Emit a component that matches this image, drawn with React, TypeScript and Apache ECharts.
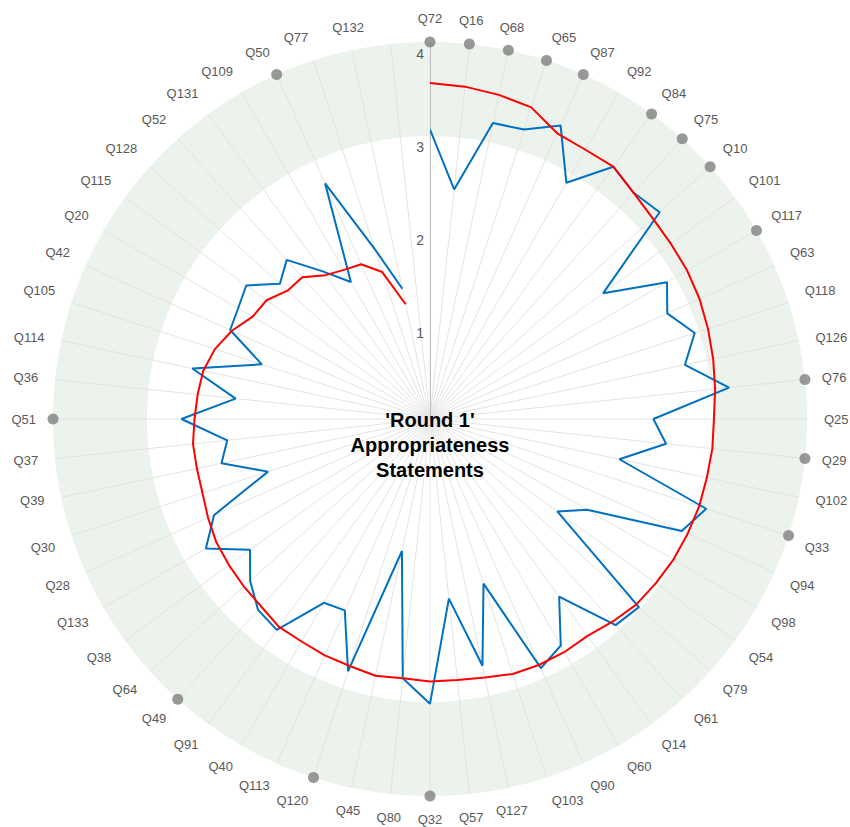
import React, { useEffect, useRef } from 'react';
import * as echarts from 'echarts';

const categories = [
  'Q72', 'Q16', 'Q68', 'Q65', 'Q87', 'Q92', 'Q84', 'Q75', 'Q10', 'Q101',
  'Q117', 'Q63', 'Q118', 'Q126', 'Q76', 'Q25', 'Q29', 'Q102', 'Q33', 'Q94',
  'Q98', 'Q54', 'Q79', 'Q61', 'Q14', 'Q60', 'Q90', 'Q103', 'Q127', 'Q57',
  'Q32', 'Q80', 'Q45', 'Q120', 'Q113', 'Q40', 'Q91', 'Q49', 'Q64', 'Q38',
  'Q133', 'Q28', 'Q30', 'Q39', 'Q37', 'Q51', 'Q36', 'Q114', 'Q105', 'Q42',
  'Q20', 'Q115', 'Q128', 'Q52', 'Q131', 'Q109', 'Q50', 'Q77', 'Q132', '',
];

const blueValues = [
  3.11, 2.48, 3.25, 3.27, 3.45, 2.93, 3.35, 3.27, 3.32, 2.30,
  2.94, 2.79, 2.99, 2.80, 3.23, 2.40, 2.55, 2.08, 3.12, 2.96,
  1.95, 1.69, 3.02, 2.98, 2.36, 2.81, 2.93, 1.86, 2.71, 1.94,
  3.06, 2.80, 1.45, 2.85, 2.25, 2.28, 2.80, 2.76, 2.60, 2.39,
  2.78, 2.54, 1.83, 2.29, 2.19, 2.67, 2.10, 2.61, 1.90, 2.35,
  2.38, 2.44, 2.17, 2.30, 1.96, 1.70, 2.77, 1.92, 1.43,
];

const redValues = [
  3.61, 3.59, 3.56, 3.52, 3.36, 3.34, 3.35, 3.27, 3.22, 3.20,
  3.19, 3.17, 3.14, 3.11, 3.08, 3.05, 3.05, 3.04, 3.04, 3.03,
  3.02, 3.00, 2.98, 2.93, 2.88, 2.89, 2.89, 2.88, 2.84, 2.82,
  2.82, 2.80, 2.82, 2.79, 2.78, 2.76, 2.76, 2.71, 2.69, 2.67,
  2.65, 2.61, 2.57, 2.56, 2.56, 2.53, 2.51, 2.49, 2.43, 2.33,
  2.20, 2.17, 2.06, 2.05, 1.91, 1.85, 1.82, 1.66, 1.26,
];

const markedStatements = [
  'Q72', 'Q16', 'Q68', 'Q65', 'Q87', 'Q84', 'Q75', 'Q10', 'Q117', 'Q76',
  'Q29', 'Q33', 'Q32', 'Q120', 'Q49', 'Q51', 'Q50',
];

const axisMax = 4.05;
const bandStart = 3.04;
const radiusTicks = [1, 2, 3, 4];

const FONT = '"Liberation Sans", Arial, Helvetica, sans-serif';

export default function App() {
  const ref = useRef<HTMLDivElement>(null);

  useEffect(() => {
    if (!ref.current) return;
    const chart = echarts.init(ref.current, null, { renderer: 'svg' });
    const center = [430, 419];
    const radius = 377;
    const dots = categories.map((c) => (c && markedStatements.includes(c) ? axisMax : '-'));

    chart.setOption({
      animation: false,
      backgroundColor: '#ffffff',
      polar: [
        { center, radius },
        { center, radius },
      ],
      angleAxis: [
        {
          polarIndex: 0,
          type: 'category',
          data: categories,
          startAngle: 90,
          clockwise: true,
          boundaryGap: false,
          z: 2,
          axisLine: { show: false },
          axisTick: { show: false },
          axisLabel: {
            interval: 0,
            color: '#595959',
            fontSize: 13,
            fontFamily: FONT,
            margin: 17,
          },
          splitLine: { show: true, lineStyle: { color: '#e2e4e2', width: 1 } },
        },
        {
          polarIndex: 1,
          type: 'category',
          data: categories,
          startAngle: 90,
          clockwise: true,
          boundaryGap: false,
          z: 0,
          axisLine: { show: false },
          axisTick: { show: false },
          axisLabel: { show: false },
          splitLine: { show: false },
        },
      ],
      radiusAxis: [
        {
          polarIndex: 0,
          type: 'value',
          min: 0,
          max: axisMax,
          interval: 1,
          z: 3,
          axisLine: { show: true, lineStyle: { color: '#bfbfbf', width: 1 } },
          axisTick: { show: false },
          axisLabel: {
            color: '#595959',
            fontSize: 14,
            fontFamily: FONT,
            margin: 6,
            verticalAlign: 'top',
            formatter: (v: number) => (radiusTicks.includes(v) ? String(v) : ''),
          },
          splitLine: { show: false },
          splitArea: { show: false },
        },
        {
          polarIndex: 1,
          type: 'value',
          min: 0,
          max: axisMax,
          interval: bandStart,
          z: 0,
          axisLine: { show: false },
          axisTick: { show: false },
          axisLabel: { show: false },
          splitLine: { show: false },
          splitArea: { show: true, areaStyle: { color: ['rgba(255,255,255,0)', '#ecf2ec'] } },
        },
      ],
      series: [
        {
          type: 'line',
          coordinateSystem: 'polar',
          polarIndex: 0,
          data: blueValues,
          showSymbol: false,
          symbol: 'none',
          lineStyle: { color: '#0070c0', width: 2 },
          itemStyle: { color: '#0070c0' },
          z: 4,
        },
        {
          type: 'line',
          coordinateSystem: 'polar',
          polarIndex: 0,
          data: redValues,
          showSymbol: false,
          symbol: 'none',
          lineStyle: { color: '#ff0000', width: 2 },
          itemStyle: { color: '#ff0000' },
          z: 5,
        },
        {
          type: 'scatter',
          coordinateSystem: 'polar',
          polarIndex: 0,
          data: dots,
          symbolSize: 11,
          itemStyle: { color: '#7f7f7f' },
          z: 6,
        },
      ],
      graphic: [
        {
          type: 'text',
          x: 430,
          y: 445,
          z: 10,
          style: {
            text: "'Round 1'\nAppropriateness\nStatements",
            font: `bold 20px ${FONT}`,
            fill: '#000000',
            textAlign: 'center',
            textVerticalAlign: 'middle',
            lineHeight: 25,
          },
        },
      ],
    });

    return () => chart.dispose();
  }, []);

  return (
    <div
      ref={ref}
      style={{ position: 'absolute', left: 0, top: 0, width: 850, height: 827 }}
    />
  );
}
